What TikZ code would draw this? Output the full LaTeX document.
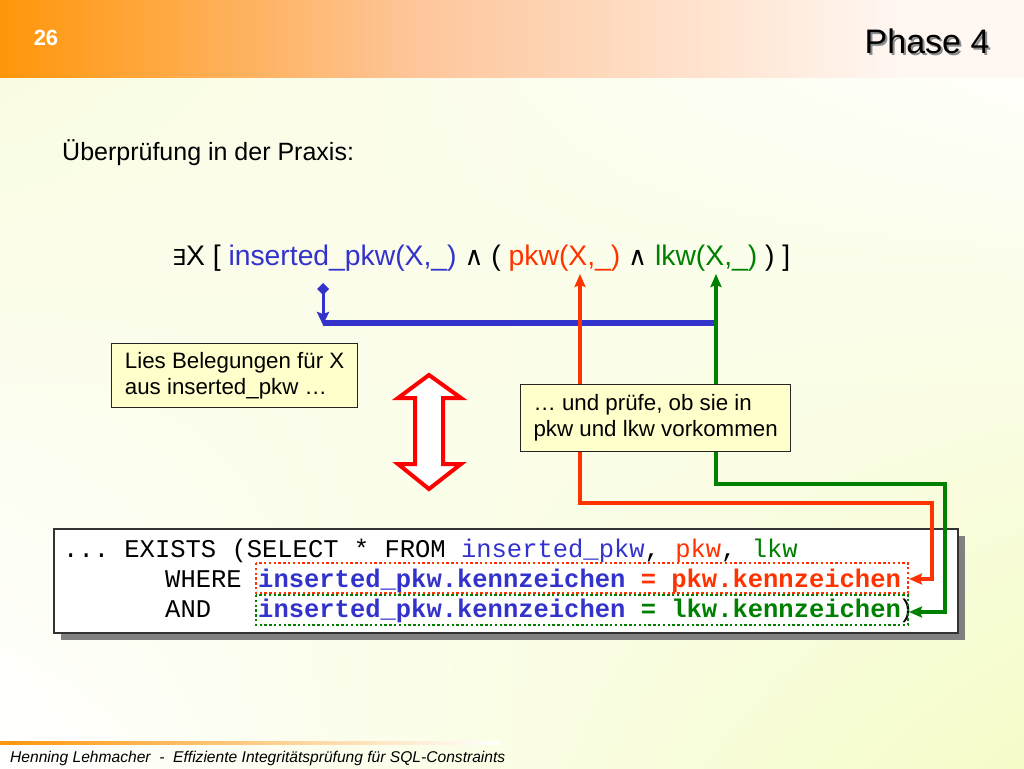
\documentclass[tikz,border=0pt]{standalone}
\usepackage{fontspec}
\setmainfont{Liberation Sans}
\setmonofont{Liberation Mono}
\newfontfamily\symfont{DejaVu Sans}
\usetikzlibrary{arrows.meta,shadings}
\definecolor{cblue}{RGB}{51,51,204}
\definecolor{cred}{RGB}{255,51,0}
\definecolor{cgreen}{RGB}{0,128,0}
\definecolor{boxfill}{RGB}{255,255,204}
\definecolor{orng}{RGB}{255,150,10}
\definecolor{peach}{RGB}{254,198,155}
\definecolor{pale}{RGB}{255,247,242}
\definecolor{bgyel}{RGB}{245,252,200}
\definecolor{bgyel2}{RGB}{249,252,222}
\newcommand{\exsym}{{\symfont\fontsize{22}{22}\selectfont ∃}}
\newcommand{\andsym}{{\symfont\fontsize{26}{26}\selectfont ∧}}
\begin{document}
\begin{tikzpicture}[x=1pt,y=-1pt,
  note/.style={draw=black!85,line width=1.3pt,fill=boxfill,align=left,inner xsep=9pt,inner ysep=5pt,
    font=\fontsize{22.3}{26}\selectfont,anchor=north west,minimum width=#1},
  both/.style={line width=4pt,{Stealth[length=13pt,width=11pt,inset=2pt]}-{Stealth[length=13pt,width=11pt,inset=2pt]}},
  sql/.style={anchor=base west,inner sep=0pt,font=\fontsize{25.5}{30}\ttfamily},
  sqlb/.style={anchor=base west,inner sep=0pt,font=\fontsize{25.5}{30}\ttfamily\bfseries},
  dotbox/.style={line width=2.6pt,dash pattern=on 2.4pt off 2.4pt}
]
\useasboundingbox (0,0) rectangle (1024,768);
% background
\shade[upper left=bgyel2,upper right=white,lower left=white,lower right=bgyel] (0,0) rectangle (1024,768);
% header
\shade[left color=orng,right color=peach] (0,0) rectangle (420,77);
\shade[left color=peach,right color=pale] (420,0) rectangle (900,77);
\fill[pale] (899,0) rectangle (1024,77);
\node[anchor=center,text=white,font=\fontsize{22}{22}\selectfont\bfseries] (num) at (46,38) {26};
\node[anchor=base east,text=black!45,font=\fontsize{34}{34}\selectfont] at (995,56) {Phase 4};
\node[anchor=base east,text=black,font=\fontsize{34}{34}\selectfont] (title) at (993,54) {Phase 4};
% footer
\shade[left color=orng,right color=white] (0,741.5) rectangle (500,744.5);
\node[anchor=base west,inner sep=0pt,font=\fontsize{15.6}{15.6}\selectfont\itshape] (foot) at (10,762)
  {Henning Lehmacher \ - \ Effiziente Integritätsprüfung für SQL-Constraints};
% heading
\node[anchor=base west,inner sep=0pt,font=\fontsize{25}{30}\selectfont] (head) at (62,160) {Überprüfung in der Praxis:};
% formula
\node[anchor=base west,inner sep=0pt,font=\fontsize{28.3}{32}\selectfont] (formula) at (172,265)
  {\exsym X [ \textcolor{cblue}{inserted\_pkw(X,\_)} \andsym{} ( \textcolor{cred}{pkw(X,\_)} \andsym{} \textcolor{cgreen}{lkw(X,\_)} ) ]};
% coordinates for connectors
\coordinate (bTop) at (323,283);
\coordinate (bBot) at (323,323);
\coordinate (bEnd) at (716,323);
\coordinate (rTip) at (580,274);
\coordinate (gTip) at (716,274);
\coordinate (rIn) at (909,579);
\coordinate (gIn) at (909,612);
% SQL box
\fill[black!50] (61,536) rectangle (965,640);
\node[draw=black!80,line width=2pt,fill=white,minimum width=904pt,minimum height=104pt,anchor=north west,inner sep=0pt] (sqlbox) at (53,528) {};
\node[sql] (l1) at (63,557) {... EXISTS (SELECT * FROM \textcolor{cblue}{inserted\_pkw}, \textcolor{cred}{pkw}, \textcolor{cgreen}{lkw}};
\node[sql] (w) at (165,587) {WHERE};
\node[sqlb] (l2) at (258,587) {\textcolor{cblue}{inserted\_pkw.kennzeichen} \textcolor{cred}{= pkw.kennzeichen}};
\node[sql] (a) at (165,617) {AND};
\node[sqlb] (l3) at (258,617) {\textcolor{cblue}{inserted\_pkw.kennzeichen} \textcolor{cgreen}{= lkw.kennzeichen}};
\node[sql] (cp) at ([xshift=-3pt]l3.base east) {)};
\draw[cred,dotbox] (256,563) rectangle (908,593);
\draw[cgreen,dotbox] (256,595) rectangle (908,625);
% blue connector
\draw[cblue,line width=5.5pt] (bBot) -- (bEnd);
\draw[cblue,line width=3pt,{Diamond[length=12pt,width=12pt]}-{Stealth[length=13pt,width=12pt,inset=2pt]}] (bTop) -- ([yshift=-2pt]bBot);
% red connector
\draw[cred,both] (rIn) -- (932,579) -- (932,503) -- (580,503) -- (rTip);
% green connector
\draw[cgreen,both] (gIn) -- (945,612) -- (945,484) -- (716,484) -- (gTip);
% notes
\node[note=246pt,minimum height=64pt] (n1) at (111,343) {Lies Belegungen für X\\aus inserted\_pkw …};
\node[note=270pt,minimum height=67pt] (n2) at (520,384) {… und prüfe, ob sie in\\pkw und lkw vorkommen};
% double arrow
\draw[red,line width=4pt,fill=white,line join=miter] (429,375) -- (461,398) -- (443,398) -- (443,464) -- (461,464) -- (429,489) -- (398,464) -- (415,464) -- (415,398) -- (398,398) -- cycle;
\end{tikzpicture}
\end{document}
